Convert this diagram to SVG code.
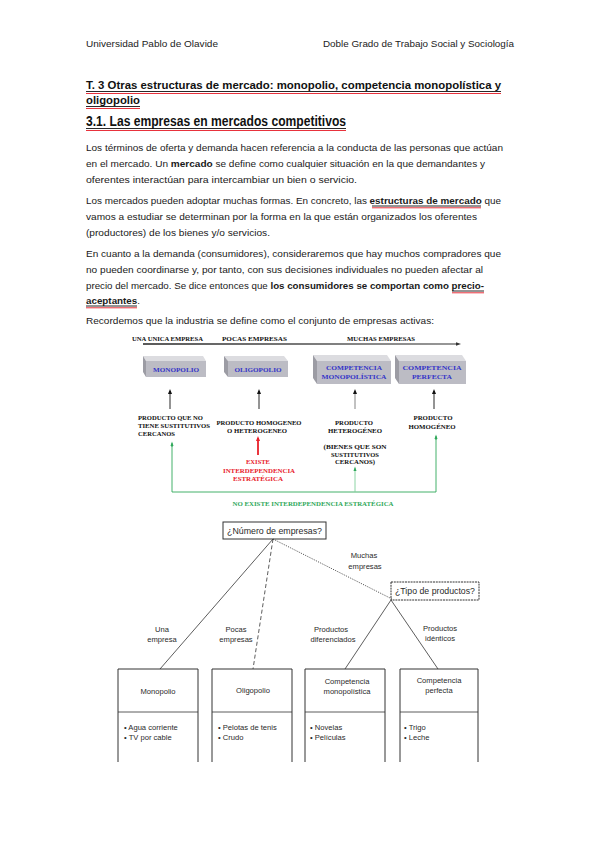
<svg xmlns="http://www.w3.org/2000/svg" width="599" height="848" viewBox="0 0 599 848">
<defs>
<style>
.hd{font-family:"Liberation Sans",Arial,sans-serif;font-size:9.5px;fill:#222}
.tt{font-family:"Liberation Sans",Arial,sans-serif;font-size:11.5px;font-weight:bold;fill:#111}
.h2{font-family:"Liberation Sans",Arial,sans-serif;font-size:14px;font-weight:bold;fill:#111}
.bd{font-family:"Liberation Sans",Arial,sans-serif;font-size:9.8px;fill:#1a1a1a}
.b{font-weight:bold}
.ul{stroke:#111;stroke-width:0.9}
.red{stroke:#e8323c;stroke-width:1}
.sf{font-family:"Liberation Serif","Times New Roman",serif;font-size:6.6px;font-weight:bold;fill:#111}
.sfb{font-family:"Liberation Serif","Times New Roman",serif;font-size:7px;font-weight:bold;fill:#3434c8}
.sfr{font-family:"Liberation Serif","Times New Roman",serif;font-size:6.6px;font-weight:bold;fill:#e8202a}
.sfg{font-family:"Liberation Serif","Times New Roman",serif;font-size:6.6px;font-weight:bold;fill:#2fa85a}
.top{fill:#dcdce0}
.front{fill:#bcbcc4}
.side{fill:#9c9ca4}
.sn{font-family:"Liberation Sans",Arial,sans-serif;font-size:7.6px;fill:#2a2a2a}
.sq{font-family:"Liberation Sans",Arial,sans-serif;font-size:8.6px;fill:#2a2a2a}
.ln{stroke:#333;stroke-width:0.8;fill:none}
.bx{stroke:#333;stroke-width:1;fill:none}
.c{text-anchor:middle}
</style>
<marker id="ab" markerWidth="6" markerHeight="6" refX="3" refY="3" orient="auto" markerUnits="userSpaceOnUse"><path d="M0,1 L5,3 L0,5 z" fill="#111"/></marker>
<marker id="ar" markerWidth="6" markerHeight="6" refX="3" refY="3" orient="auto" markerUnits="userSpaceOnUse"><path d="M0,1 L5,3 L0,5 z" fill="#e8202a"/></marker>
<marker id="ag" markerWidth="6" markerHeight="6" refX="3" refY="3" orient="auto" markerUnits="userSpaceOnUse"><path d="M0,1.5 L4.5,3 L0,4.5 z" fill="#2fa85a"/></marker>
<linearGradient id="axg" gradientUnits="userSpaceOnUse" x1="143" y1="0" x2="460" y2="0"><stop offset="0" stop-color="#222"/><stop offset="0.6" stop-color="#555"/><stop offset="1" stop-color="#777"/></linearGradient>
</defs>
<rect width="599" height="848" fill="#fff"/>

<!-- header -->
<text class="hd" x="86" y="47" textLength="132" lengthAdjust="spacingAndGlyphs">Universidad Pablo de Olavide</text>
<text class="hd" x="323" y="47" textLength="191" lengthAdjust="spacingAndGlyphs">Doble Grado de Trabajo Social y Sociología</text>

<!-- title -->
<text class="tt" x="86" y="89" textLength="415" lengthAdjust="spacingAndGlyphs">T. 3 Otras estructuras de mercado: monopolio, competencia monopolística y</text>
<line class="ul" x1="86" y1="91.5" x2="501" y2="91.5"/>
<line class="red" x1="86" y1="93.5" x2="501" y2="93.5"/>
<text class="tt" x="86" y="104" textLength="54" lengthAdjust="spacingAndGlyphs">oligopolio</text>
<line class="ul" x1="86" y1="106.5" x2="140" y2="106.5"/>
<line class="red" x1="86" y1="108.5" x2="140" y2="108.5"/>

<text class="h2" x="86" y="126" textLength="260" lengthAdjust="spacingAndGlyphs">3.1. Las empresas en mercados competitivos</text>
<line class="ul" x1="86" y1="128.5" x2="346" y2="128.5"/>
<line class="red" x1="86" y1="130.5" x2="346" y2="130.5"/>

<!-- body -->
<text class="bd" x="86" y="151" textLength="417" lengthAdjust="spacingAndGlyphs">Los términos de oferta y demanda hacen referencia a la conducta de las personas que actúan</text>
<text class="bd" x="86" y="167" textLength="399" lengthAdjust="spacingAndGlyphs">en el mercado. Un <tspan class="b">mercado</tspan> se define como cualquier situación en la que demandantes y</text>
<text class="bd" x="86" y="183" textLength="271" lengthAdjust="spacingAndGlyphs">oferentes interactúan para intercambiar un bien o servicio.</text>
<text class="bd" x="86" y="204" textLength="415" lengthAdjust="spacingAndGlyphs">Los mercados pueden adoptar muchas formas. En concreto, las <tspan class="b">estructuras de mercado</tspan> que</text>
<line class="ul" x1="372" y1="206" x2="481" y2="206"/>
<line class="red" x1="372" y1="207.8" x2="481" y2="207.8" stroke-width="0.8"/>
<text class="bd" x="86" y="220" textLength="391" lengthAdjust="spacingAndGlyphs">vamos a estudiar se determinan por la forma en la que están organizados los oferentes</text>
<text class="bd" x="86" y="236" textLength="184" lengthAdjust="spacingAndGlyphs">(productores) de los bienes y/o servicios.</text>
<text class="bd" x="86" y="257" textLength="415" lengthAdjust="spacingAndGlyphs">En cuanto a la demanda (consumidores), consideraremos que hay muchos compradores que</text>
<text class="bd" x="86" y="273" textLength="397" lengthAdjust="spacingAndGlyphs">no pueden coordinarse y, por tanto, con sus decisiones individuales no pueden afectar al</text>
<text class="bd" x="86" y="289" textLength="398" lengthAdjust="spacingAndGlyphs">precio del mercado. Se dice entonces que <tspan class="b">los consumidores se comportan como precio-</tspan></text>
<line class="ul" x1="452" y1="291" x2="484" y2="291"/>
<line class="red" x1="452" y1="292.8" x2="484" y2="292.8" stroke-width="0.8"/>
<text class="bd" x="86" y="304" textLength="54" lengthAdjust="spacingAndGlyphs"><tspan class="b">aceptantes</tspan>.</text>
<line class="ul" x1="86" y1="306" x2="137" y2="306"/>
<line class="red" x1="86" y1="307.8" x2="137" y2="307.8" stroke-width="0.8"/>
<text class="bd" x="86" y="324" textLength="348" lengthAdjust="spacingAndGlyphs">Recordemos que la industria se define como el conjunto de empresas activas:</text>

<!-- diagram 1 -->
<g id="scale">
<text class="sf" x="132" y="340.5" textLength="71" lengthAdjust="spacingAndGlyphs">UNA UNICA  EMPRESA</text>
<text class="sf" x="222" y="340.5" textLength="65" lengthAdjust="spacingAndGlyphs">POCAS    EMPRESAS</text>
<text class="sf" x="347" y="340.5" textLength="68" lengthAdjust="spacingAndGlyphs">MUCHAS EMPRESAS</text>
<line x1="143" y1="344" x2="458" y2="344" stroke="url(#axg)" stroke-width="1.4"/>
<path d="M456,342.3 L461,344 L456,345.7 z" fill="#333"/>
</g>

<g id="box-monopolio">
<polygon class="top" points="143,356 203,356 206,361 146,361"/>
<polygon class="side" points="143,356 146,361 146,377 143,372"/>
<rect class="front" x="146" y="361" width="60" height="16"/>
<text class="sfb c" x="176" y="371.5" textLength="46" lengthAdjust="spacingAndGlyphs">MONOPOLIO</text>
</g>
<g id="box-oligopolio">
<polygon class="top" points="224,356 284,356 288,361 228,361"/>
<polygon class="side" points="224,356 228,361 228,377 224,372"/>
<rect class="front" x="228" y="361" width="60" height="16"/>
<text class="sfb c" x="258" y="371.5" textLength="47" lengthAdjust="spacingAndGlyphs">OLIGOPOLIO</text>
</g>
<g id="box-compmono">
<polygon class="top" points="313,355 387,355 391,361 317,361"/>
<polygon class="side" points="313,355 317,361 317,384 313,378"/>
<rect class="front" x="317" y="361" width="74" height="23"/>
<text class="sfb c" x="354" y="370" textLength="56" lengthAdjust="spacingAndGlyphs">COMPETENCIA</text>
<text class="sfb c" x="354" y="379" textLength="65" lengthAdjust="spacingAndGlyphs">MONOPOLÍSTICA</text>
</g>
<g id="box-compperf">
<polygon class="top" points="395,355 462,355 466,361 399,361"/>
<polygon class="side" points="395,355 399,361 399,384 395,378"/>
<rect class="front" x="399" y="361" width="67" height="23"/>
<text class="sfb c" x="432" y="370" textLength="59" lengthAdjust="spacingAndGlyphs">COMPETENCIA</text>
<text class="sfb c" x="432" y="379" textLength="40" lengthAdjust="spacingAndGlyphs">PERFECTA</text>
</g>

<g id="connectors-1">
<line x1="170" y1="409" x2="170" y2="391" stroke="#111" stroke-width="0.9" marker-end="url(#ab)"/>
<line x1="259" y1="409" x2="259" y2="391" stroke="#111" stroke-width="0.9" marker-end="url(#ab)"/>
<line x1="355" y1="409" x2="355" y2="391" stroke="#777" stroke-width="0.9" marker-end="url(#ab)"/>
<line x1="434" y1="409" x2="434" y2="391" stroke="#111" stroke-width="0.9" marker-end="url(#ab)"/>
<line x1="258" y1="455" x2="258" y2="438" stroke="#e8202a" stroke-width="1.8" marker-end="url(#ar)"/>
<polyline points="172,446 172,492 436,492 436,439" fill="none" stroke="#2fa85a" stroke-width="0.9"/>
<line x1="172" y1="447" x2="172" y2="443" stroke="#2fa85a" stroke-width="0.9" marker-end="url(#ag)"/>
<line x1="436" y1="440" x2="436" y2="436" stroke="#2fa85a" stroke-width="0.9" marker-end="url(#ag)"/>
<line x1="355" y1="492" x2="355" y2="468" stroke="#7fcf9a" stroke-width="0.9" marker-end="url(#ag)"/>
</g>

<g id="labels-1">
<text class="sf" x="138" y="420" textLength="65" lengthAdjust="spacingAndGlyphs">PRODUCTO QUE NO</text>
<text class="sf" x="138" y="428" textLength="72" lengthAdjust="spacingAndGlyphs">TIENE SUSTITUTIVOS</text>
<text class="sf" x="138" y="436" textLength="37" lengthAdjust="spacingAndGlyphs">CERCANOS</text>
<text class="sf c" x="259" y="425" textLength="85" lengthAdjust="spacingAndGlyphs">PRODUCTO HOMOGENEO</text>
<text class="sf c" x="257" y="433" textLength="60" lengthAdjust="spacingAndGlyphs">O HETEROGENEO</text>
<text class="sf c" x="354" y="425" textLength="38" lengthAdjust="spacingAndGlyphs">PRODUCTO</text>
<text class="sf c" x="355" y="432.5" textLength="54" lengthAdjust="spacingAndGlyphs">HETEROGÉNEO</text>
<text class="sf c" x="355" y="449" textLength="63" lengthAdjust="spacingAndGlyphs">(BIENES QUE SON</text>
<text class="sf c" x="355" y="456.5" textLength="48" lengthAdjust="spacingAndGlyphs">SUSTITUTIVOS</text>
<text class="sf c" x="355" y="464" textLength="40" lengthAdjust="spacingAndGlyphs">CERCANOS)</text>
<text class="sf c" x="433" y="420" textLength="39" lengthAdjust="spacingAndGlyphs">PRODUCTO</text>
<text class="sf c" x="432" y="428.5" textLength="47" lengthAdjust="spacingAndGlyphs">HOMOGÉNEO</text>
<text class="sfr c" x="258" y="464" textLength="24" lengthAdjust="spacingAndGlyphs">EXISTE</text>
<text class="sfr c" x="259" y="472.5" textLength="72" lengthAdjust="spacingAndGlyphs">INTERDEPENDENCIA</text>
<text class="sfr c" x="258" y="481" textLength="50" lengthAdjust="spacingAndGlyphs">ESTRATÉGICA</text>
<text class="sfg c" x="313" y="505.5" textLength="161" lengthAdjust="spacingAndGlyphs">NO EXISTE INTERDEPENDENCIA ESTRATÉGICA</text>
</g>

<!-- diagram 2 -->
<g id="connectors-2">
<line class="ln" x1="273" y1="539" x2="160" y2="669"/>
<line class="ln" x1="273" y1="539" x2="253" y2="669" stroke-dasharray="4,2.5"/>
<line class="ln" x1="273" y1="539" x2="392" y2="599" stroke-dasharray="1.2,1.2"/>
<line class="ln" x1="391" y1="600" x2="345" y2="669"/>
<line class="ln" x1="391" y1="600" x2="438" y2="669"/>
</g>

<g id="q-numero">
<rect class="bx" x="223" y="522" width="103" height="17"/>
<text class="sq c" x="274.5" y="533.5" textLength="95" lengthAdjust="spacingAndGlyphs">¿Número de empresas?</text>
</g>
<g id="q-tipo">
<rect class="bx" x="391" y="582" width="88" height="18" stroke-dasharray="2,0.8"/>
<text class="sq c" x="435" y="594" textLength="80" lengthAdjust="spacingAndGlyphs">¿Tipo de productos?</text>
</g>

<g id="labels-2">
<text class="sn c" x="364" y="558">Muchas</text>
<text class="sn c" x="365" y="569">empresas</text>
<text class="sn c" x="162" y="632">Una</text>
<text class="sn c" x="162" y="642">empresa</text>
<text class="sn c" x="236" y="632">Pocas</text>
<text class="sn c" x="236" y="642">empresas</text>
<text class="sn c" x="331" y="632">Productos</text>
<text class="sn c" x="333" y="642">diferenciados</text>
<text class="sn c" x="440" y="631">Productos</text>
<text class="sn c" x="440" y="641">idénticos</text>
</g>

<g id="m-monopolio">
<path class="bx" d="M118,762 V669 H198 V762"/>
<line class="ln" x1="118" y1="712" x2="198" y2="712"/>
<text class="sn c" x="158" y="694">Monopolio</text>
<text class="sn" x="124" y="730">•  Agua corriente</text>
<text class="sn" x="124" y="739.5">•  TV por cable</text>
</g>
<g id="m-oligopolio">
<path class="bx" d="M212,762 V669 H292 V762"/>
<line class="ln" x1="212" y1="712" x2="292" y2="712"/>
<text class="sn c" x="253" y="693">Oligopolio</text>
<text class="sn" x="218" y="730">•  Pelotas de tenis</text>
<text class="sn" x="218" y="739.5">•  Crudo</text>
</g>
<g id="m-compmono">
<path class="bx" d="M305,762 V669 H385 V762"/>
<line class="ln" x1="305" y1="712" x2="385" y2="712"/>
<text class="sn c" x="347" y="684">Competencia</text>
<text class="sn c" x="347" y="694">monopolística</text>
<text class="sn" x="310" y="730">•  Novelas</text>
<text class="sn" x="310" y="739.5">•  Películas</text>
</g>
<g id="m-compperf">
<path class="bx" d="M400,762 V669 H478 V762"/>
<line class="ln" x1="400" y1="712" x2="478" y2="712"/>
<text class="sn c" x="439" y="683">Competencia</text>
<text class="sn c" x="439" y="693">perfecta</text>
<text class="sn" x="404" y="730">•  Trigo</text>
<text class="sn" x="404" y="739.5">•  Leche</text>
</g>
</svg>
